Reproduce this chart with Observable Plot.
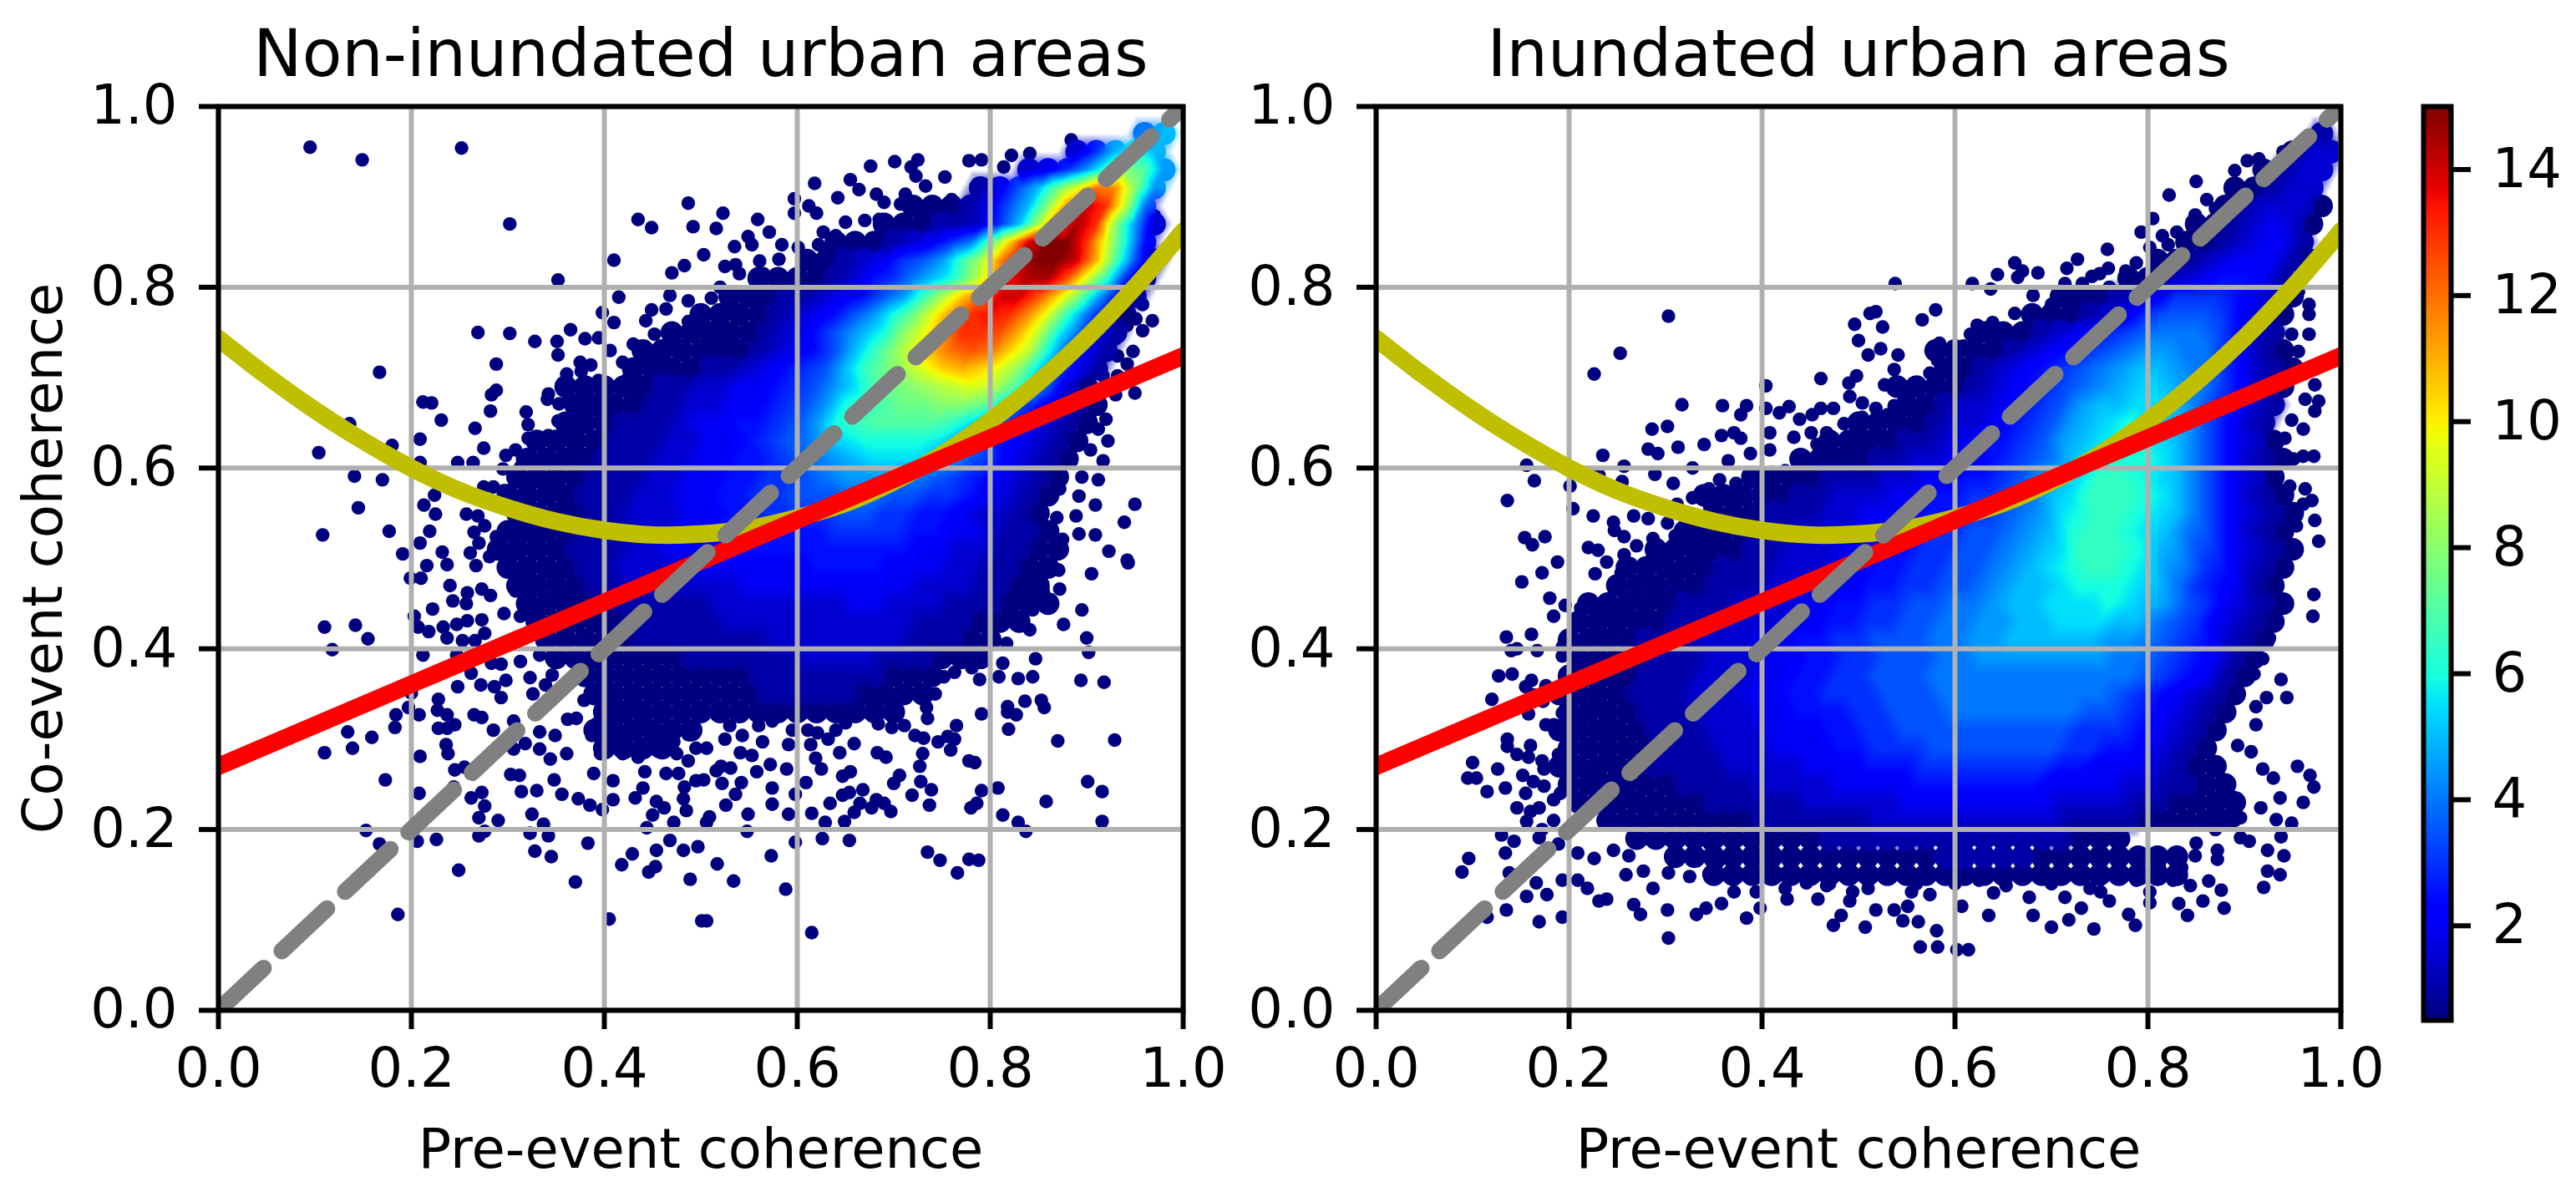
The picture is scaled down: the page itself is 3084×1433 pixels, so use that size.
<!DOCTYPE html>
<html><head><meta charset="utf-8">
<script src="https://cdn.jsdelivr.net/npm/d3@7"></script>
<script src="https://cdn.jsdelivr.net/npm/@observablehq/plot@0.6"></script>
<style>html,body{margin:0;padding:0;background:#fff;width:3084px;height:1433px;overflow:hidden}
#a,#b,#c{position:absolute;top:0}#a{left:0}#b{left:1480px}#c{left:2860px}
svg{font-family:"DejaVu Sans"}</style></head><body><div id="a"></div><div id="b"></div><div id="c"></div>
<script>
const titles=["Non-inundated urban areas","Inundated urban areas"];
const xLabel="Pre-event coherence",yLabel="Co-event coherence";
const ticks01=[0,.2,.4,.6,.8,1],barTicks=[2,4,6,8,10,12,14];
const redX=[0,1],redY=[.27,.724];
const diagX=[0,1],diagY=[0,1];
const yellowX=[0,.05,.1,.15,.2,.25,.3,.35,.4,.45,.5,.55,.6,.65,.7,.75,.8,.85,.9,.95,1];
const yellowY=[.7434,.702,.664,.63,.6,.575,.556,.541,.531,.526,.527,.533,.545,.561,.585,.615,.652,.695,.744,.8,.862];
const jetAt=[.5,2.095,2.3125,5.43,5.575,5.9375,9.78,9.925,10.07,13.405,13.695,15];
const jetColors=["#000080","#0000ff","#0000ff","#00dbff","#00e6f7","#14ffe2","#eeff08","#f7f600","#ffec00","#ff1300","#e80000","#800000"];
// density: [y, first x, codes every 0.02] code (base 36) = density x 2
const dense1=[[.97,.96,"8a"],[.95,.89,"36aca"],[.93,.84,"3469dge9"],[.91,.79,"247afjong9"],[.89,.78,"247agnsqi8"],[.87,.75,"2236ahptqg93"],[.85,.68,"123468elsuuqjc5"],[.83,.65,"234679dhnsuusme72"],[.81,.62,"123568acglrttpjd62"],[.79,.59,"2234579dhlossplga52"],[.77,.56,"1234579cfjnqrqnjd841"],[.75,.55,"123468acgjnqqpmic842"],[.73,.54,"123457adgjmopolic742"],[.71,.49,"12234567adfhjlmljgb742"],
[.69,.36,"1111122334456"+"79befghijifb731"],[.67,.37,"11112233"+"4456"+"79cdeffggfc75321"],[.65,.36,"111222"+"3445567"+"9cdeeeedb864321"],[.63,.33,"1111222"+"3344567"+"8abccccb9754321"],[.61,.32,"1111222"+"33445567"+"89abbba9764321"],[.59,.31,"1111222"+"334455667"+"8999887654321"],[.57,.30,"1111222"+"33445566777"+"88776654321"],[.55,.31,"111122333"+"44556666"+"77665543321"],[.53,.30,"1111222"+"3344555555"+"666655443221"],[.51,.29,"1111222"+"33444"+"5555555555"+"44332211"],[.49,.30,"1111"+"223333"+"444444"+"5555"+"444332211"],[.47,.31,"111122"+"333333"+"444444444"+"3332211"],[.45,.32,"1111122222"+"3333333"+"44"+"333222111"],[.43,.33,"1111122222"+"3333333333"+"222111"],[.41,.34,"111112222222"+"3333333"+"22211"],[.39,.35,"1111111222222"+"3333"+"222111"],[.37,.38,"111111111"+"2222222"+"111"],[.35,.39,"111111111"+"22222"+"1111"],[.33,.40,"1111111111111111"],[.31,.39,"111111"],[.29,.40,"1111"]];
const dense2=[[.97,.98,"2"],[.95,.95,"133"],[.93,.92,"1233"],[.91,.89,"11233"],[.89,.88,"123331"],[.87,.85,"1123431"],[.85,.84,"1123442"],[.83,.81,"112344421"],[.81,.78,"112345542"],[.79,.77,"2346665431"],[.77,.72,"123467776431"],[.75,.67,"12345678887532"],[.73,.64,"1234567899886421"],[.71,.61,"123456789aa9875321"],[.69,.60,"123456789aba986421"],[.67,.57,"123345679aabba86532"],[.65,.56,"123345679abcba97532"],[.63,.51,"11223455679abccba86431"],[.61,.50,"12233445678abcccb975321"],[.59,.45,"1222334455679abddcba86431"],[.57,.44,"2233344556678abdddcb975321"],[.55,.41,"222334445566789bcddcba864321"],[.53,.40,"223334455667789acddcba875321"],[.51,.37,"1223334455667789abdddca9764321"],[.49,.34,"12223334455667789abcddcb9865321"],[.47,.33,"12223334455667789aabcccba865421"],[.45,.30,"122233344556677889aabbbcba9764321"],[.43,.29,"1222333445566778899aabbbaa8764321"],[.41,.28,"2223334455667778899aaaaa998765321"],[.39,.27,"122233344556677788999999988765421"],[.37,.26,"122233344556677788888888888765421"],[.35,.25,"122233344556667778888888887654321"],[.33,.26,"12223334455566777888888877654321"],[.31,.27,"1222333444556677777777766654321"],[.29,.26,"1122233344455666777777766554321"],[.27,.25,"11222233334445556666666554443211"],[.25,.26,"11122223333444455555554444332211"],[.23,.29,"1112222233333444444443333221111"],[.21,.30,"111112222223333333333222211111"],[.19,.37,"111112222222222222111"],[.17,.45,"1111111222221111"]];
// solid navy stretches with small gaps: [y, first x, how many cells at 0.02 spacing]
const navy1=[[.89,.72,3],[.87,.69,3],[.85,.64,2],[.83,.61,2],[.81,.56,3],[.79,.53,3],[.77,.50,3],[.75,.47,4],[.73,.44,5],[.71,.43,3]];
const navy2=[[.79,.71,3],[.77,.68,2],[.75,.63,2],[.73,.58,3],[.71,.59,1],[.69,.54,3],[.67,.55,1],[.65,.50,3],[.63,.47,2],[.61,.44,3],[.59,.39,3],[.57,.34,5],[.55,.35,3],[.53,.32,4],[.51,.29,4],[.49,.26,4],[.47,.25,4],[.45,.22,4],[.43,.21,4],[.41,.20,4],[.39,.21,3],[.37,.20,3],[.35,.19,3],[.33,.20,3],[.31,.19,4],[.29,.20,3],[.27,.19,3],[.25,.20,3],[.23,.21,4],[.21,.24,3],[.19,.27,5],[.17,.31,7],[.17,.77,4],[.15,.35,25]];
// individually readable outlying points: x,y,x,y,...
const loose1=[.095,.955,.149,.941,.252,.954,.302,.870,.410,.830,.352,.808,.487,.893,.435,.875,.449,.866,.492,.867,.483,.824,.470,.816,.415,.789,.468,.791,.487,.785,.449,.775,.464,.776,.398,.772,.410,.761,.443,.763,.487,.762,.269,.750,.302,.749,.328,.740,.365,.753,.351,.740,.380,.743,.352,.725,.394,.744,.406,.730,.430,.737,.452,.748,.475,.737,.288,.715,.375,.717,.386,.714,.376,.707,.361,.704,.167,.706,.288,.686,.283,.681,.342,.682,.341,.676,.353,.671,.363,.677,.377,.680,.394,.697,.418,.692,.419,.717,.425,.70,.44,.69,.455,.68,.435,.68,.43,.715,.445,.72,.46,.71,.465,.695,.475,.70,.212,.673,.221,.672,.282,.663,.319,.662,.231,.653,.266,.644,.352,.652,.321,.648,.321,.633,.342,.636,.136,.649,.209,.632,.180,.625,.104,.617,.275,.622,.308,.620,.298,.614,.316,.611,.248,.606,.264,.606,.209,.606,.295,.599,.331,.597,.313,.601,.376,.663,.369,.653,.366,.639,.382,.646,.399,.659,.412,.653,.429,.646,.369,.623,.402,.620,.420,.615,.384,.608,.356,.605,.356,.590,.376,.595,.391,.587,.141,.591,.170,.587,.275,.579,.285,.579,.296,.575,.308,.587,.320,.580,.325,.569,.344,.580,.356,.573,.376,.575,.386,.555,.359,.560,.224,.570,.213,.559,.145,.556,.225,.549,.257,.549,.269,.547,.276,.536,.108,.526,.177,.530,.219,.530,.265,.529,.288,.524,.300,.529,.313,.532,.310,.516,.293,.512,.270,.517,.333,.521,.329,.507,.352,.507,.209,.517,.191,.505,.232,.507,.261,.506,.281,.502,.301,.502,
.199,.478,.210,.478,.216,.492,.237,.493,.267,.492,.240,.470,.258,.462,.273,.466,.282,.459,.243,.453,.257,.450,.222,.444,.316,.482,.308,.464,.323,.457,.354,.488,.353,.462,.366,.455,.379,.465,.296,.439,.313,.436,.326,.439,.203,.436,.207,.424,.218,.419,.233,.424,.237,.412,.247,.427,.258,.431,.273,.432,.276,.417,.253,.409,.266,.409,.110,.424,.142,.426,.155,.411,.118,.399,.212,.393,.247,.393,.333,.393,.313,.386,.353,.386,.379,.381,.293,.383,.283,.384,.248,.358,.272,.360,.262,.373,.286,.358,.298,.365,.323,.368,.346,.371,.293,.346,.200,.351,.228,.344,.197,.335,.208,.327,.184,.327,.227,.332,.237,.327,.183,.313,.265,.327,.273,.324,.326,.350,.339,.360,.379,.343,.362,.322,.371,.323,.306,.320,.285,.310,.245,.316,.228,.312,.237,.312,.134,.308,.159,.302,.139,.290,.110,.285,.333,.308,.349,.304,.318,.295,.333,.289,.344,.278,.361,.284,.306,.289,.387,.304,.392,.317,.396,.333,.412,.343,.412,.323,.429,.340,.439,.320,.422,.300,.409,.300,.396,.284,.419,.284,.455,.300,.472,.297,.487,.305,.495,.290,.435,.280,.442,.264,.455,.287,.475,.284,.487,.276,.389,.262,.409,.254,.464,.262,.477,.262,.440,.246,.432,.235,.483,.247,.495,.254,.236,.294,.238,.284,.209,.281,.245,.266,.255,.269,.173,.255,.303,.261,.312,.260,.348,.255,.244,.247,.314,.242,.330,.243,.356,.239,.373,.234,.385,.227,.409,.233,.398,.222,.208,.240,.262,.235,.273,.241,.276,.226,.270,.213,.290,.210,.325,.217,.337,.206,.454,.231,.462,.224,.450,.216,.482,.234,.485,.221,.472,.208,.444,.202,.153,.199,.167,.184,.206,.187,.226,.189,.270,.193,.276,.198,.323,.196,.342,.193,.383,.185,.468,.188,.482,.177,.429,.173,.454,.177,.328,.176,.345,.170,.418,.161,.453,.159,.446,.153,.497,.181,.249,.155,.370,.142,.489,.145,.186,.106,.405,.101,.501,.099,
.943,.495,.905,.483,.871,.487,.854,.483,.837,.480,.872,.466,.855,.464,.846,.459,.826,.449,.844,.443,.895,.443,.876,.427,.828,.427,.841,.421,.900,.412,.817,.406,.902,.396,.847,.389,.813,.384,.809,.369,.829,.367,.844,.369,.894,.365,.918,.363,.789,.366,.781,.379,.763,.374,.752,.369,.743,.350,.713,.346,.700,.343,.836,.342,.853,.343,.856,.335,.818,.336,.827,.327,.818,.330,.791,.328,.734,.335,.735,.323,.765,.315,.819,.311,.870,.298,.929,.299,.756,.303,.763,.300,.746,.297,.722,.304,.731,.301,.759,.288,.711,.315,.698,.313,.684,.317,.700,.327,.650,.318,.680,.336,.664,.330,.654,.343,.609,.330,.659,.295,.644,.285,.683,.285,.692,.280,.730,.284,.727,.270,.778,.276,.784,.274,.621,.307,.632,.300,.614,.294,.619,.279,.625,.267,.589,.267,.572,.272,.558,.264,.553,.282,.564,.297,.541,.285,.591,.294,.611,.310,.574,.320,.543,.304,.525,.300,.506,.290,.521,.270,.531,.268,.516,.265,.647,.259,.655,.264,.706,.260,.700,.251,.728,.253,.739,.244,.719,.238,.791,.243,.808,.246,.901,.253,.916,.242,.858,.231,.737,.227,.786,.229,.780,.224,.813,.216,.829,.208,.837,.198,.916,.209,.609,.252,.574,.246,.598,.239,.542,.252,.522,.251,.536,.239,.503,.255,.668,.244,.654,.241,.647,.238,.634,.229,.682,.233,.665,.229,.690,.229,.697,.220,.677,.224,.659,.219,.615,.218,.629,.208,.649,.209,.574,.228,.526,.227,.549,.217,.591,.217,.509,.214,.506,.208,.548,.198,.598,.186,.626,.190,.654,.188,.573,.171,.517,.162,.534,.143,.735,.175,.748,.166,.778,.167,.788,.166,.766,.152,.588,.134,.506,.099,.615,.086,
.884,.963,.676,.934,.701,.939,.725,.941,.718,.933,.723,.923,.618,.915,.655,.919,.664,.908,.642,.899,.733,.912,.753,.922,.778,.940,.791,.941,.822,.946,.841,.948,.814,.933,.682,.903,.690,.894,.712,.903,.707,.892,.597,.898,.612,.890,.620,.882,.597,.882,.523,.882,.516,.865,.559,.875,.571,.861,.549,.856,.535,.845,.553,.847,.561,.829,.525,.823,.536,.825,.584,.847,.581,.831,.601,.844,.627,.861,.650,.872,.670,.874,.622,.847,.640,.857,.657,.847,.690,.874,.677,.854,.740,.890,.760,.897,.730,.884,.614,.832,.640,.831,.657,.827,.579,.811,.601,.814,.561,.804,.503,.836,.511,.788,.533,.788,.546,.788,.508,.752,.521,.758,.518,.771,.544,.771,.970,.879,.958,.781,.968,.763,.958,.752,.951,.765,.942,.758,.930,.743,.948,.729,.932,.724,.942,.715,.922,.732,.917,.702,.932,.702,.950,.683,.930,.681,.920,.654,.922,.630,.912,.643,.904,.620,.917,.608,.895,.590,.912,.587,.872,.577,.892,.569,.909,.559,.950,.560,.939,.540,.869,.545,.889,.547,.909,.526,.892,.527,.846,.521,.875,.521,.846,.511,.872,.508,.923,.508,.942,.498,
.53,.315,.56,.315,.595,.31,.64,.31,.78,.40,.80,.415,.82,.435,.835,.46,.50,.725,.515,.74,.53,.735,.545,.75,.565,.745,.58,.76,.50,.76,.525,.775,.56,.785,.575,.795,.59,.775,.60,.805,.615,.795,.63,.81,.645,.82,.62,.825,.66,.835,.675,.84,.63,.84,.695,.86,.71,.865,.665,.85,.73,.865,.75,.875,.765,.885,.685,.875,.52,.80,.54,.815,.565,.815];
const loose2=[.303,.768,.253,.727,.226,.704,.404,.691,.461,.699,.496,.759,.500,.741,.512,.771,.510,.725,.498,.702,.490,.694,.317,.670,.359,.669,.384,.669,.378,.659,.404,.666,.418,.661,.428,.668,.439,.654,.452,.659,.461,.666,.474,.666,.485,.649,.491,.679,.504,.672,.504,.656,.286,.643,.302,.646,.358,.636,.371,.639,.408,.639,.433,.634,.451,.639,.467,.639,.500,.634,.235,.614,.282,.621,.292,.616,.313,.623,.340,.626,.378,.633,.388,.616,.408,.620,.457,.626,.487,.620,.504,.620,.156,.603,.257,.602,.289,.593,.328,.600,.365,.608,.424,.597,.447,.603,.477,.610,.164,.586,.231,.592,.255,.585,.201,.580,.308,.583,.356,.587,.373,.583,.408,.583,.438,.577,.345,.577,.328,.567,.312,.560,.368,.560,.421,.560,.136,.564,.204,.555,.225,.547,.246,.540,.267,.547,.282,.544,.302,.539,.345,.560,.154,.523,.162,.515,.175,.524,.247,.531,.257,.524,.287,.522,.342,.524,.378,.521,.358,.517,.220,.512,.230,.509,.270,.514,.320,.512,.335,.514,.257,.504,.298,.504,.358,.501,.388,.501,.188,.496,.239,.496,.264,.494,.285,.498,.325,.494,.338,.498,.368,.488,.172,.484,.151,.474,.227,.483,.254,.484,.312,.481,.355,.481,.381,.481,.282,.481,.246,.471,.267,.473,.292,.468,.325,.468,.368,.468,.342,.461,.180,.456,.196,.448,.212,.445,.232,.448,.246,.448,.265,.448,.285,.455,.308,.455,.325,.441,.184,.436,.212,.428,.226,.428,.240,.432,.259,.432,.275,.432,.295,.435,.312,.438,.135,.413,.161,.416,.234,.414,.211,.407,.254,.412,.275,.418,.285,.408,.305,.415,.140,.398,.146,.400,.167,.398,.193,.402,.193,.392,.209,.382,.226,.385,.246,.382,.127,.370,.141,.372,.161,.365,.155,.358,.176,.359,.209,.365,.196,.372,.120,.344,.163,.349,.173,.342,.193,.329,.216,.349,.232,.342,.249,.352,.158,.328,.176,.316,.184,.316,.197,.308,.216,.323,.209,.306,.236,.313,.136,.300,.136,.292,.160,.293,.146,.283,.158,.280,.172,.276,.189,.283,.100,.274,.126,.267,.152,.260,.174,.267,.188,.270,.095,.257,.104,.257,.163,.253,.174,.248,.115,.242,.134,.246,.155,.240,.184,.233,.191,.240,.146,.224,.160,.220,.169,.224,.156,.209,.184,.210,.172,.200,.130,.194,.143,.187,.169,.191,.189,.184,.134,.174,.209,.174,.226,.168,.246,.177,.262,.171,.096,.168,.089,.153,.138,.152,.166,.141,.193,.144,.209,.144,.219,.135,.259,.150,.277,.154,.287,.135,.303,.152,.325,.148,.345,.151,.371,.131,.394,.131,.408,.154,.424,.135,.446,.141,.467,.138,.494,.131,.156,.126,.177,.128,.135,.111,.115,.103,.169,.098,.193,.103,.231,.121,.239,.123,.267,.117,.274,.106,.302,.111,.332,.106,.342,.113,.358,.118,.384,.102,.398,.113,.426,.123,.458,.123,.491,.121,.482,.105,.474,.094,.507,.092,.303,.080,
.564,.070,.582,.070,.602,.067,.614,.067,.581,.088,.562,.098,.546,.099,.518,.111,.537,.111,.551,.115,.635,.105,.681,.105,.700,.092,.718,.100,.744,.090,.787,.094,.780,.106,.731,.113,.760,.121,.802,.119,.841,.105,.857,.121,.879,.113,.832,.118,.863,.143,.876,.133,.844,.138,.920,.136,.924,.154,.937,.150,.941,.171,.924,.177,.938,.192,.949,.207,.933,.211,.896,.191,.905,.187,.872,.177,.872,.167,.835,.158,.826,.144,.812,.158,.849,.171,.802,.131,.653,.138,.625,.144,.714,.125,.751,.131,.788,.144,.574,.128,.555,.131,.607,.115,.677,.125,.961,.230,.972,.247,.968,.260,.955,.270,.937,.235,.917,.224,.896,.213,.930,.257,.919,.267,.907,.286,.886,.237,.868,.224,.893,.293,.944,.346,.938,.366,.923,.346,.912,.336,.912,.316,.910,.372,.919,.389,.926,.412,.972,.460,.971,.436,.942,.488,.923,.435,.933,.448,.914,.468,.945,.507,.977,.519,.973,.542,.954,.536,.937,.548,.970,.564,.961,.560,.963,.577,.947,.580,.972,.613,.961,.613,.951,.610,.949,.653,.961,.643,.973,.663,.977,.674,.963,.676,.973,.692,.942,.633,.956,.729,.967,.748,.949,.748,.967,.770,.967,.781,.956,.795,
.890,.929,.903,.940,.915,.942,.940,.950,.822,.902,.850,.917,.861,.897,.849,.880,.895,.907,.870,.887,.805,.876,.793,.861,.815,.857,.830,.861,.821,.847,.802,.844,.758,.842,.759,.821,.727,.831,.788,.827,.777,.818,.716,.821,.686,.816,.662,.827,.670,.818,.644,.814,.665,.811,.618,.804,.637,.798,.538,.804,.742,.812,.714,.804,.732,.804,.700,.781,.681,.791,.662,.771,.639,.761,.623,.758,.718,.788,.742,.781,.718,.771,.580,.775,.566,.764,.518,.773,.525,.756,.616,.748,.639,.738,.662,.738,.609,.735,.584,.738,.582,.719,.541,.725,.523,.732,.625,.725,.681,.752,.649,.719,.537,.709,.604,.712,.574,.705,.527,.692,.555,.686,.579,.692,.609,.686,.639,.692,.600,.699,.537,.669,.518,.666,.560,.656,.574,.659,.530,.659,.541,.646,.560,.639,.518,.633,.558,.610,.532,.620,.574,.620,.520,.606,
.43,.565,.445,.595,.46,.58,.48,.60,.47,.62,.49,.63,.33,.53,.345,.52,.31,.525,.30,.49,.27,.46,.255,.445,.285,.43,.245,.365,.255,.35,.235,.33,.25,.315,.24,.30,.225,.29,.245,.275,.23,.255,.215,.265,.25,.25,.265,.235,.245,.225,.28,.22,.26,.21,.29,.195,.31,.18,.345,.185,.33,.17,.355,.165,.42,.15,.47,.14,.51,.135,.56,.14,.60,.14,.64,.13,.70,.14,.74,.135,.79,.155,.85,.185,.87,.20,.89,.21,.875,.23,.535,.625,.53,.60,.59,.655,.575,.67,.59,.68,.62,.70,.625,.71,.635,.72,.66,.72,.655,.745,.68,.735,.70,.77,.69,.76,.71,.79,.725,.78,.745,.795,.75,.815,.76,.80];

const INK="#000",GRID="#b0b0b0",SW=6,FS=65.5;
const color={type:"linear",domain:jetAt,range:jetColors,interpolate:"rgb"};
const pairs=(xs,ys)=>xs.map((x,i)=>({x,y:ys[i]}));
const looseRows=a=>d3.range(0,a.length,2).map(i=>({x:a[i],y:a[i+1],v:.5}));
const denseRows=r=>r.flatMap(([y,x0,s])=>Array.from(s,(c,i)=>({x:x0+.02*i,y,v:parseInt(c,36)/2}))).sort((a,b)=>a.v-b.v);
const navyRows=r=>r.flatMap(([y,x0,n])=>d3.range(n).map(i=>({x:x0+.02*i,y,v:.5})));
// the smooth core is only shown where the read density is at least 1: a ring of fully transparent control points hems it in
const key=(x,y)=>Math.round(x*100)+"_"+Math.round(y*100);
function coreMesh(pts){
  const seen=new Map(pts.map(d=>[key(d.x,d.y),{...d,o:d.v>=1?1:0}]));
  for(const d of pts) if(d.v>=1) for(const [dx,dy] of [[.02,0],[-.02,0],[.01,.02],[-.01,.02],[.01,-.02],[-.01,-.02]]){
    const k=key(d.x+dx,d.y+dy);
    if(!seen.has(k)) seen.set(k,{x:d.x+dx,y:d.y+dy,v:d.v,o:0});
  }
  return [...seen.values()];
}
function panel(title,loose,dense,navy,opts){
  const pts=denseRows(dense);
  const low=[...navyRows(navy),...pts.filter(d=>d.v<1)];
  return Plot.plot({
    width:opts.width,height:1433,marginLeft:opts.left,marginRight:opts.width-opts.left-1155,marginTop:127,marginBottom:224,
    style:{background:"none",fontFamily:"DejaVu Sans"},
    x:{domain:[0,1]},y:{domain:[0,1]},color,opacity:{domain:[0,1],range:[0,1]},
    marks:[
      Plot.dot(looseRows(loose),{x:"x",y:"y",r:8.2,fill:"v",clip:"frame"}),
      Plot.dot(low,{x:"x",y:"y",r:13.6,fill:"v",clip:"frame"}),
      Plot.dot(pts.filter(d=>d.v>=1),{x:"x",y:"y",r:14,fill:"v",clip:"frame"}),
      Plot.raster(coreMesh(pts),{x:"x",y:"y",fill:"v",fillOpacity:"o",interpolate:"barycentric",clip:"frame"}),
      Plot.gridX(ticks01,{stroke:GRID,strokeOpacity:1,strokeWidth:SW}),
      Plot.gridY(ticks01,{stroke:GRID,strokeOpacity:1,strokeWidth:SW}),
      Plot.line(pairs(yellowX,yellowY),{x:"x",y:"y",stroke:"#bfbf00",strokeWidth:21,curve:"catmull-rom",clip:"frame"}),
      Plot.line(pairs(redX,redY),{x:"x",y:"y",stroke:"#ff0000",strokeWidth:21,clip:"frame"}),
      Plot.line(pairs(diagX,diagY),{x:"x",y:"y",stroke:"#808080",strokeWidth:20,strokeDasharray:"74,30",clip:"frame"}),
      Plot.frame({stroke:INK,strokeWidth:SW}),
      Plot.axisX(ticks01,{tickSize:23,tickPadding:22,tickFormat:d3.format(".1f"),fontSize:FS,strokeWidth:SW,label:xLabel,labelAnchor:"center",labelArrow:"none",labelOffset:188}),
      Plot.axisY(ticks01,{tickSize:23,tickPadding:26,tickFormat:d3.format(".1f"),fontSize:FS,strokeWidth:SW,label:opts.yLabel||null,labelAnchor:"center",labelArrow:"none",labelOffset:opts.left-27}),
      Plot.text([title],{frameAnchor:"top",dy:-92,fontSize:78,fill:INK})
    ]
  });
}
document.getElementById("a").append(panel(titles[0],loose1,dense1,navy1,{width:1480,left:261,yLabel}));
document.getElementById("b").append(panel(titles[1],loose2,dense2,navy2,{width:1380,left:167}));
document.getElementById("c").append(Plot.plot({
  width:224,height:1433,marginLeft:41,marginRight:150,marginTop:127,marginBottom:212,
  style:{background:"none",fontFamily:"DejaVu Sans"},
  x:{domain:[0,1],axis:null},y:{domain:[.5,15]},color,
  marks:[
    Plot.raster({x1:0,x2:1,y1:.5,y2:15,width:1,height:256,fill:(x,y)=>y,imageRendering:"pixelated"}),
    Plot.frame({stroke:INK,strokeWidth:SW}),
    Plot.axisY(barTicks,{anchor:"right",tickSize:23,tickPadding:26,tickFormat:d3.format("d"),fontSize:FS,strokeWidth:SW,label:null})
  ]
}));
</script></body></html>
